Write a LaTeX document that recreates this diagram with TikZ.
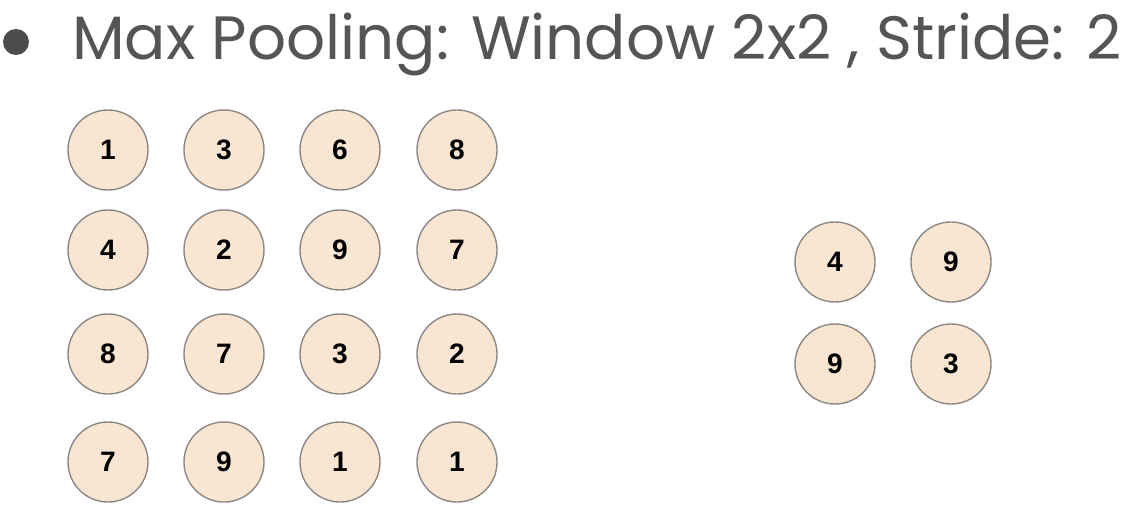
\documentclass[tikz,border=0pt]{standalone}
\usepackage{fontspec}
\setmainfont{Liberation Sans}
\newfontfamily\titlefont{Poppins}
\definecolor{cellfill}{HTML}{F8E6D2}
\definecolor{cellline}{HTML}{8C8985}
\definecolor{titlegray}{HTML}{555555}

\begin{document}
\begin{tikzpicture}[x=0.025cm, y=-0.025cm,
        cell/.style={circle, draw=cellline, line width=1pt, fill=cellfill, minimum size=2cm, inner sep=0pt, font=\fontsize{20}{20}\selectfont\bfseries}]
        \useasboundingbox (0, 0) rectangle (1136, 507);
        \fill[titlegray!90!black] (16, 42) circle (13);
        \node[anchor=base west, text=titlegray, font=\titlefont\fontsize{43.5}{43.5}\selectfont, inner sep=0pt] (title) at (72, 59) {Max Pooling: Window 2x2 , Stride: 2};
        \node[cell] (a11) at (108, 150) {1}; \node[cell] (a12) at (224, 150) {3}; \node[cell] (a13) at (340, 150) {6}; \node[cell] (a14) at (457, 150) {8};
        \node[cell] (a21) at (108, 250) {4}; \node[cell] (a22) at (224, 250) {2}; \node[cell] (a23) at (340, 250) {9}; \node[cell] (a24) at (457, 250) {7};
        \node[cell] (a31) at (108, 354) {8}; \node[cell] (a32) at (224, 354) {7}; \node[cell] (a33) at (340, 354) {3}; \node[cell] (a34) at (457, 354) {2};
        \node[cell] (a41) at (108, 462) {7}; \node[cell] (a42) at (224, 462) {9}; \node[cell] (a43) at (340, 462) {1}; \node[cell] (a44) at (457, 462) {1};
        \node[cell] (b11) at (835, 262) {4}; \node[cell] (b12) at (951, 262) {9};
        \node[cell] (b21) at (835, 364) {9}; \node[cell] (b22) at (951, 364) {3};
    \end{tikzpicture}
\end{document}
